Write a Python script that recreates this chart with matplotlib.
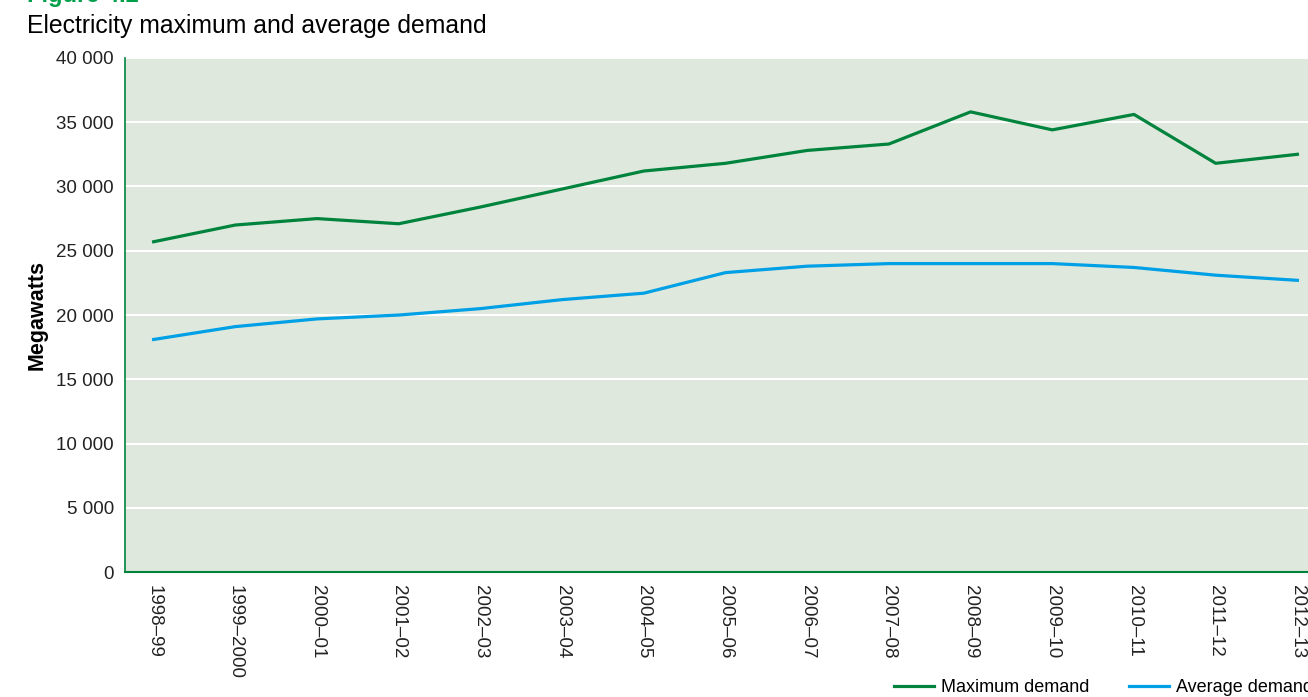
import matplotlib
matplotlib.use('Agg')
import matplotlib.pyplot as plt

# data
years = ['1998–99', '1999–2000', '2000–01', '2001–02', '2002–03', '2003–04', '2004–05',
         '2005–06', '2006–07', '2007–08', '2008–09', '2009–10', '2010–11', '2011–12', '2012–13']
max_demand = [25700, 27000, 27500, 27100, 28400, 29800, 31200,
              31800, 32800, 33300, 35800, 34400, 35600, 31800, 32500]
avg_demand = [18100, 19100, 19700, 20000, 20500, 21200, 21700,
              23300, 23800, 24000, 24000, 24000, 23700, 23100, 22700]
y_ticks = [0, 5000, 10000, 15000, 20000, 25000, 30000, 35000, 40000]

green = '#00843D'
blue = '#00A0E6'

plt.rcParams['font.family'] = ['Liberation Sans', 'DejaVu Sans']

fig = plt.figure(figsize=(13.08, 6.97), dpi=100)
ax = fig.add_axes([0.0956, 0.179, 0.9044 + 0.02, 0.738])
ax.set_facecolor('#DEE8DC')

x = list(range(len(years)))
ax.plot(x, max_demand, color=green, lw=2.3, label='Maximum demand')
ax.plot(x, avg_demand, color=blue, lw=2.3, label='Average demand')

ax.set_ylim(0, 40000)
ax.set_xlim(-0.35, 14.45)
ax.set_yticks(y_ticks)
ax.set_yticklabels([f'{v:,}'.replace(',', ' ') for v in y_ticks], fontsize=13.5, color='#222222')
ax.set_xticks(x)
ax.set_xticklabels(years, rotation=-90, fontsize=13.5, color='#222222', va='top')
ax.tick_params(axis='x', length=0, pad=9)
ax.tick_params(axis='y', length=0, pad=8)
ax.grid(axis='y', color='white', lw=1.5)
ax.set_axisbelow(True)

for s in ['top', 'right']:
    ax.spines[s].set_visible(False)
ax.spines['left'].set_color(green)
ax.spines['bottom'].set_color(green)
ax.spines['left'].set_linewidth(1.2)
ax.spines['bottom'].set_linewidth(1.5)

ax.set_ylabel('Megawatts', fontsize=15.5, fontweight='bold', labelpad=6)

fig.text(0.0206, 0.997, 'Figure 4.2', color='#00A04B', fontsize=17, fontweight='bold', va='baseline')
fig.text(0.0206, 0.952, 'Electricity maximum and average demand', fontsize=17.8, va='baseline')

fig.legend(loc='center left', bbox_to_anchor=(0.671, 0.013), ncol=2, frameon=False,
           fontsize=13, handlelength=2.2, handletextpad=0.4, columnspacing=2.2)

fig.savefig('out.png', dpi=100)
